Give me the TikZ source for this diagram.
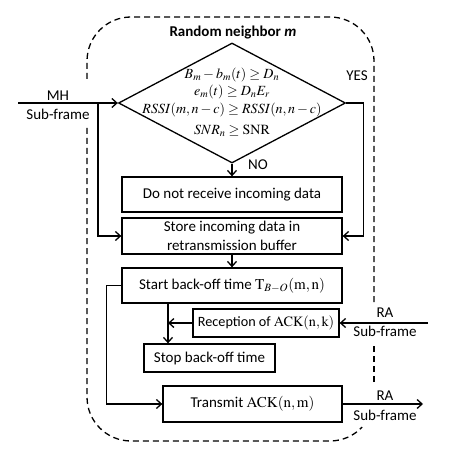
\documentclass[tikz,border=0pt]{standalone}
\usepackage{mathptmx}
\usepackage[no-math]{fontspec}
\setmainfont{Carlito}
\usetikzlibrary{arrows.meta,shapes.geometric,calc}

\tikzset{
  box/.style={draw, line width=1.3pt, minimum height=35pt, align=center, inner sep=1pt},
  decision/.style={draw, diamond, line width=1.3pt, minimum width=227pt, minimum height=120pt, inner sep=0pt},
  flow/.style={line width=1.3pt, -{Straight Barb[length=5pt,width=9pt]}},
  boundary/.style={line width=1.3pt, dash pattern=on 6pt off 4pt},
  lbl/.style={inner sep=1pt},
}

\begin{document}
\begin{tikzpicture}[x=1pt,y=-1pt,font=\fontsize{15}{18.5}\selectfont]
    \useasboundingbox (0,0) rectangle (453,457);
    %% frame round the neighbour
    \draw[boundary] (374,382) -- (374,345);
    \draw[boundary] (374,302) -- (374,61) arc[start angle=0,end angle=90,radius=44pt]
      -- (131,17) arc[start angle=90,end angle=180,radius=44pt] -- (87,82);
    \draw[boundary] (87,128) -- (87,397) arc[start angle=180,end angle=270,radius=44pt]
      -- (330,441) arc[start angle=270,end angle=317,radius=44pt];
    \node (title) at (233,33) {\bfseries Random neighbor \textit{m}};
    %%
    \node[decision] (cond) at (232,103) {};
    \node[font=\fontsize{14}{15}\selectfont, align=center] (condtxt) at (232,102.5)
      {$B_m-b_m(t)\ge D_n$\\[1.5pt]
       $e_m(t)\ge D_nE_r$\\[3pt]
       $RSSI(m,n-c)\ge RSSI(n,n-c)$\\[6pt]
       $SNR_n\ge\mathrm{SNR}$};
    %%
    \node[box, minimum width=220pt] (norx) at (232,194.5) {Do not receive incoming data};
    \node[box, minimum width=220pt, minimum height=36pt] (store) at (232,236)
      {Store incoming data in\\retransmission buffer};
    \node[box, minimum width=220pt] (start) at (232,285.5)
      {Start back-off time $\mathrm{T}_{B-O}(\mathrm{m,n})$};
    \node[box, minimum width=146pt, minimum height=28pt, font=\fontsize{14.2}{17}\selectfont] (recv) at (266,323)
      {Reception of $\mathrm{ACK(n,k)}$};
    \node[box, minimum width=131pt, minimum height=28pt] (stop) at (209.5,358) {Stop back-off time};
    \node[box, minimum width=179pt, minimum height=36pt] (tx) at (252.5,404)
      {Transmit $\mathrm{ACK(n,m)}$};
    %% MH sub-frame in
    \coordinate (mhin) at (18,103);
    \coordinate (mhsplit) at (98,103);
    \draw[flow] (mhin) -- (cond.west);
    \draw[flow] (mhsplit) |- (store.west);
    \node[lbl] (mh) at (58,96) {MH};
    \node[lbl] (mhsub) at (58,114) {Sub-frame};
    %% decision outcomes
    \draw[flow] (cond.east) -- ++(17,0) |- (store.east);
    \node[lbl] (yes) at (357,76) {YES};
    \draw[flow] (cond.south) -- (norx.north);
    \node[lbl] (no) at (258,165) {NO};
    \draw[flow] (store.south) -- (start.north);
    %% back-off
    \coordinate (bo) at ([xshift=-64pt]start.south);
    \draw[flow] (bo) -- (bo |- stop.north);
    \draw[flow] (recv.west) -- (recv.west -| bo);
    \draw[flow] (start.west) -- ++(-15,0) |- (tx.west);
    %% RA sub-frames
    \coordinate (rain) at (428,323);
    \draw[flow] (rain) -- (recv.east);
    \node[lbl] (ra1) at (385,313) {RA};
    \node[lbl] (ra1sub) at (385,331) {Sub-frame};
    \coordinate (raout) at (423,404);
    \draw[flow] (tx.east) -- (raout);
    \node[lbl] (ra2) at (385,396) {RA};
    \node[lbl] (ra2sub) at (385,415) {Sub-frame};
\end{tikzpicture}
\end{document}
